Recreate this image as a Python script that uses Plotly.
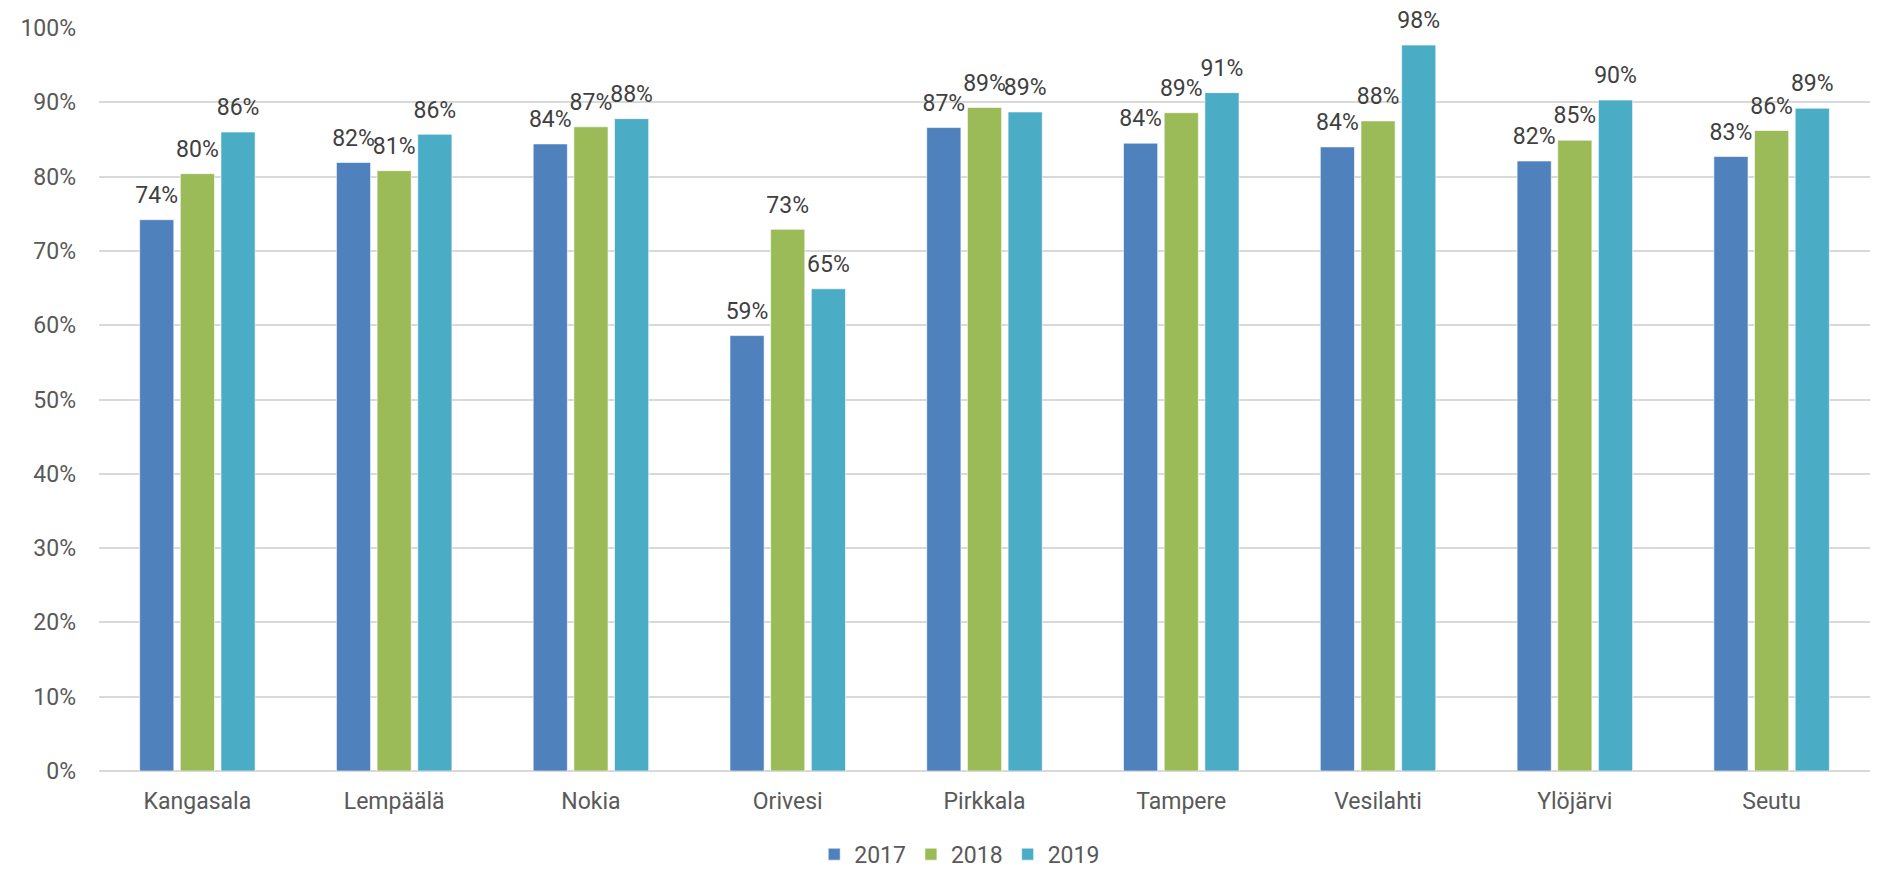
import plotly.graph_objects as go

# Kunnat ja vuodet
kunnat = ["Kangasala", "Lempäälä", "Nokia", "Orivesi", "Pirkkala",
          "Tampere", "Vesilahti", "Ylöjärvi", "Seutu"]
vuodet = ["2017", "2018", "2019"]

# Osuudet (%) luettuna kuvasta
v2017 = [74.2, 81.9, 84.4, 58.6, 86.6, 84.5, 84.0, 82.1, 82.7]
v2018 = [80.4, 80.8, 86.7, 72.9, 89.3, 88.6, 87.5, 84.9, 86.2]
v2019 = [86.0, 85.7, 87.8, 64.9, 88.7, 91.3, 97.7, 90.3, 89.2]

varit = ["#4F81BD", "#9BBB59", "#4BACC6"]
fontti = "Roboto, sans-serif"

fig = go.Figure()
for vuosi, arvot, vari in zip(vuodet, [v2017, v2018, v2019], varit):
    fig.add_trace(go.Bar(
        x=kunnat, y=arvot, name=vuosi, offsetgroup=vuosi,
        marker=dict(color=vari, line=dict(color="rgba(255,255,255,0.6)", width=1)),
    ))
# arvotekstit omina scatter-jälkinään, jotta ne jäävät hieman pylvään yläpuolelle
for vuosi, arvot in zip(vuodet, [v2017, v2018, v2019]):
    fig.add_trace(go.Scatter(
        x=kunnat, y=arvot, offsetgroup=vuosi, mode="markers+text",
        marker=dict(size=16, opacity=0),
        text=[f"{round(a)}%" for a in arvot],
        textposition="top center",
        textfont=dict(size=23, color="#404040", family=fontti),
        showlegend=False, hoverinfo="skip", cliponaxis=False,
    ))

# selaimen body-marginaali (8 px) huomioitu koossa ja marginaaleissa
fig.update_layout(
    width=1878, height=864,
    margin=dict(l=91, r=16, t=20, b=101, autoexpand=False),
    plot_bgcolor="white", paper_bgcolor="white",
    barmode="group", bargap=0.38, bargroupgap=0.16,
    scattermode="group", scattergap=0.38,
    font=dict(family=fontti, color="#595959", size=23),
    showlegend=True,
    legend=dict(orientation="h", x=0.486, xanchor="center", y=-0.112, yanchor="middle",
                font=dict(size=23, color="#595959"), traceorder="normal"),
)
fig.update_yaxes(range=[0, 100], dtick=10, ticksuffix="%", showgrid=True,
                 gridcolor="#D9D9D9", gridwidth=1.5, zeroline=True,
                 zerolinecolor="#D9D9D9", zerolinewidth=1.5,
                 tickfont=dict(size=23, color="#595959"),
                 ticks="", ticklabelstandoff=22, automargin=False)
fig.update_xaxes(showline=False, ticks="", tickfont=dict(size=23, color="#595959"),
                 ticklabelstandoff=14, automargin=False)

fig.write_html("out.html")
